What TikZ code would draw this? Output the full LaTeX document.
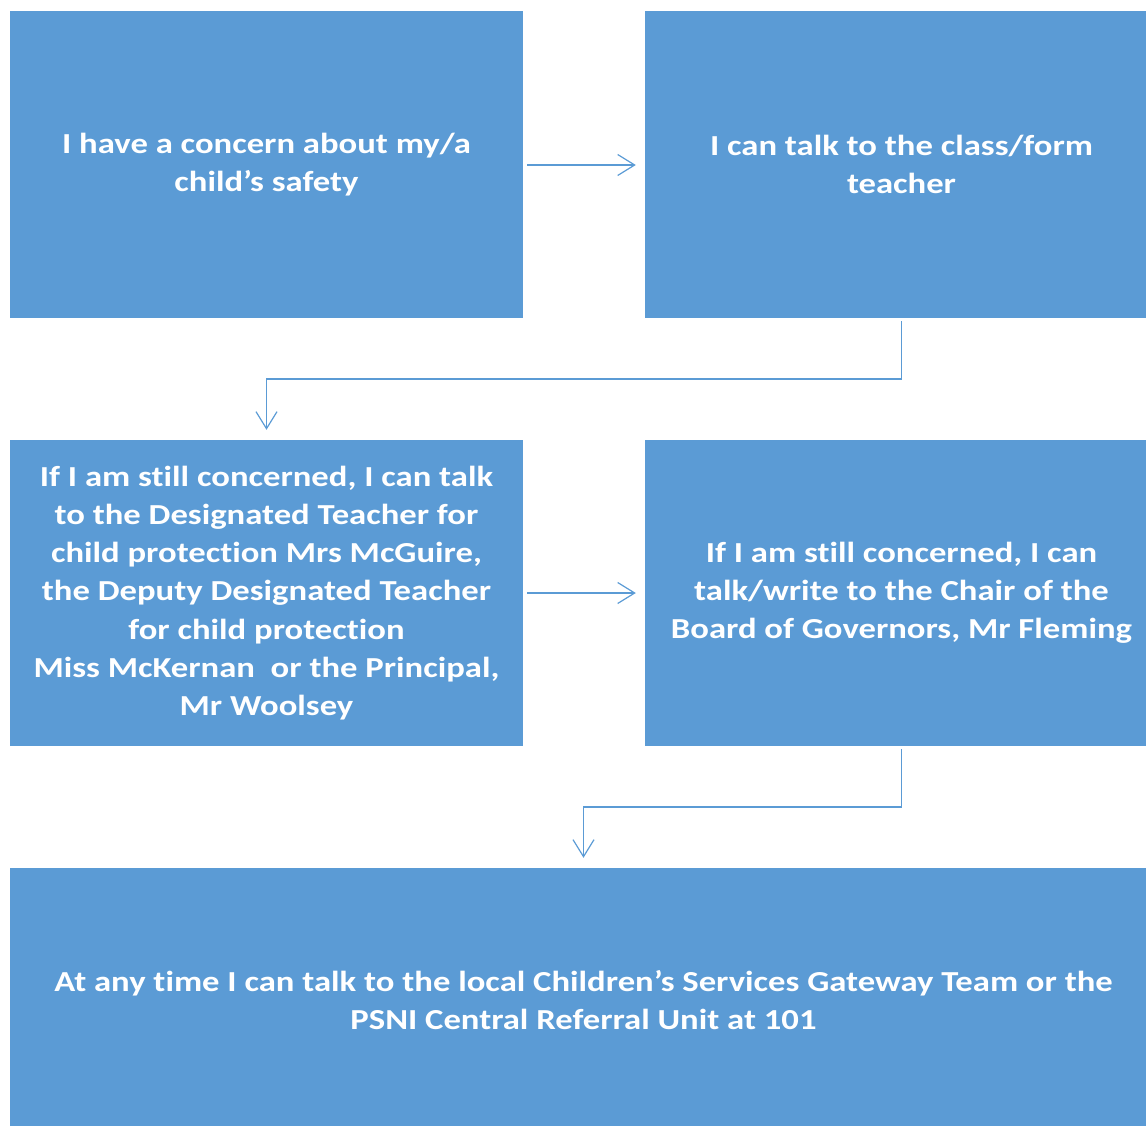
\documentclass[tikz,border=0pt]{standalone}
\usepackage{fontspec}
\setmainfont{Carlito}[FakeStretch=1.195, RawFeature=-liga]
\usetikzlibrary{arrows.meta,calc}
\definecolor{boxblue}{HTML}{5B9BD5}
\begin{document}
\begin{tikzpicture}[x=1pt,y=-1pt,
  box/.style={rectangle, fill=boxblue, draw=none, inner sep=0pt, align=center,
    text=white, font=\fontsize{29}{38.2}\selectfont\bfseries},
  arr/.style={draw=boxblue, line width=1.4pt, -{Straight Barb[length=17pt,width=21pt,line width=1.2pt]}}]
\useasboundingbox (0,0) rectangle (1146,1126);
\node[box, minimum width=513, minimum height=307] (b1) at (266.5,164.5)
  {I have a concern about my/a\\child’s safety};
\node[box, minimum width=513, minimum height=307] (b2) at (901.5,164.5)
  {I can talk to the class/form\\teacher};
\node[box, minimum width=513, minimum height=306] (b3) at (266.5,593)
  {If I am still concerned, I can talk\\to the Designated Teacher for\\child protection Mrs McGuire,\\the Deputy Designated Teacher\\for child protection\\Miss McKernan\ \ or the Principal,\\Mr Woolsey};
\node[box, minimum width=513, minimum height=306] (b4) at (901.5,593)
  {If I am still concerned, I can\\talk/write to the Chair of the\\Board of Governors, Mr Fleming};
\node[box, minimum width=1147, minimum height=264] (b5) at (583.5,1000)
  {At any time I can talk to the local Children’s Services Gateway Team or the\\PSNI Central Referral Unit at 101};
\coordinate (m1) at (0,379);
\coordinate (m2) at (0,807);
\draw[arr, shorten <=4pt, shorten >=9pt] (b1.east |- 0,165) -- (b2.west |- 0,165);
\draw[arr, shorten <=3pt, shorten >=10pt] (b2.south) -- (b2.south |- m1) -| (b3.north);
\draw[arr, shorten <=4pt, shorten >=9pt] (b3.east) -- (b4.west);
\draw[arr, shorten <=3pt, shorten >=10pt] (b4.south) -- (b4.south |- m2) -| (b5.north);
\end{tikzpicture}
\end{document}
